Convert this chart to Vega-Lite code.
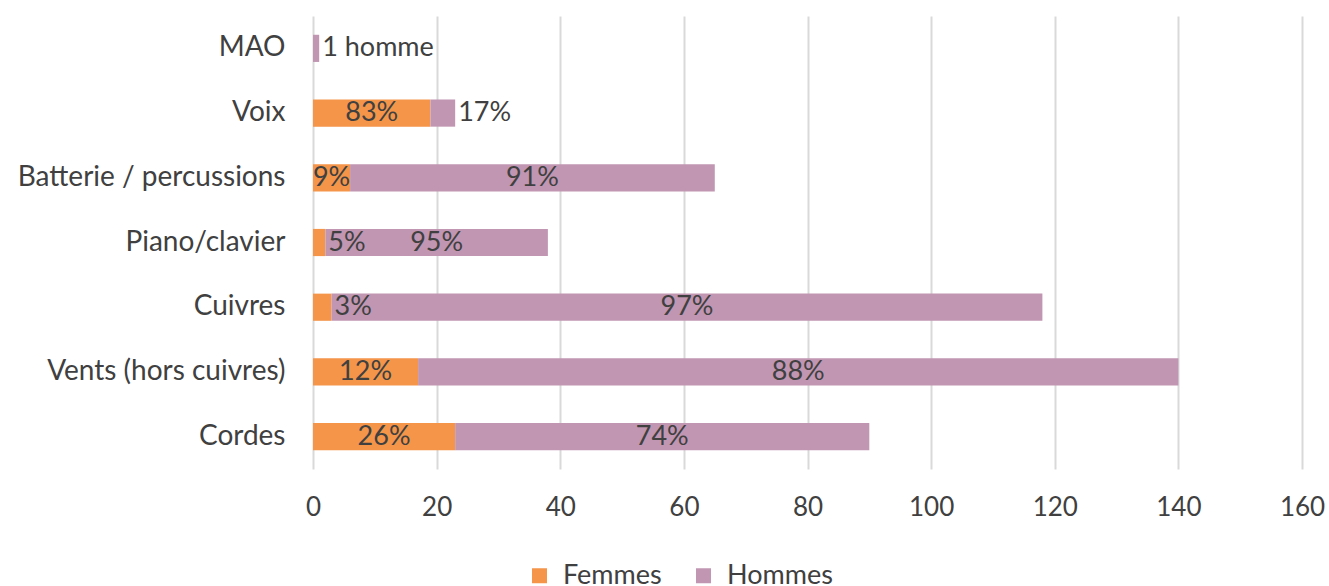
{
  "$schema": "https://vega.github.io/schema/vega-lite/v6.json",
  "width": 989,
  "height": 453,
  "autosize": "none",
  "padding": {"left": 313, "top": 16, "right": 27, "bottom": 117},
  "background": "white",
  "config": {
    "font": "Lato",
    "view": {"stroke": null}
  },
  "data": {
    "values": [
      {"instrument": "MAO", "sexe": "Hommes", "n": 1, "label": "1 homme"},
      {"instrument": "Voix", "sexe": "Femmes", "n": 19, "label": "83%"},
      {"instrument": "Voix", "sexe": "Hommes", "n": 4, "label": "17%"},
      {"instrument": "Batterie / percussions", "sexe": "Femmes", "n": 6, "label": "9%"},
      {"instrument": "Batterie / percussions", "sexe": "Hommes", "n": 59, "label": "91%"},
      {"instrument": "Piano/clavier", "sexe": "Femmes", "n": 2, "label": "5%"},
      {"instrument": "Piano/clavier", "sexe": "Hommes", "n": 36, "label": "95%"},
      {"instrument": "Cuivres", "sexe": "Femmes", "n": 3, "label": "3%"},
      {"instrument": "Cuivres", "sexe": "Hommes", "n": 115, "label": "97%"},
      {"instrument": "Vents (hors cuivres)", "sexe": "Femmes", "n": 17, "label": "12%"},
      {"instrument": "Vents (hors cuivres)", "sexe": "Hommes", "n": 123, "label": "88%"},
      {"instrument": "Cordes", "sexe": "Femmes", "n": 23, "label": "26%"},
      {"instrument": "Cordes", "sexe": "Hommes", "n": 67, "label": "74%"}
    ]
  },
  "transform": [
    {"stack": "n", "groupby": ["instrument"], "sort": [{"field": "sexe", "order": "ascending"}], "as": ["x0", "x1"]},
    {"calculate": "(datum.x0 + datum.x1) / 2", "as": "xm"}
  ],
  "encoding": {
    "y": {
      "field": "instrument",
      "type": "nominal",
      "sort": ["MAO", "Voix", "Batterie / percussions", "Piano/clavier", "Cuivres", "Vents (hors cuivres)", "Cordes"],
      "scale": {"paddingInner": 0.58, "paddingOuter": 0.29},
      "axis": {
        "title": null,
        "domain": false,
        "ticks": false,
        "labelFontSize": 28,
        "labelColor": "#404040",
        "labelPadding": 28,
        "labelLimit": 0,
        "labelFont": "Lato"
      }
    }
  },
  "layer": [
    {
      "mark": {"type": "bar"},
      "encoding": {
        "x": {
          "field": "x0",
          "type": "quantitative",
          "scale": {"domain": [0, 160], "nice": false},
          "axis": {
            "title": null,
            "values": [0, 20, 40, 60, 80, 100, 120, 140, 160],
            "domain": false,
            "ticks": false,
            "grid": true,
            "gridColor": "#d9d9d9",
            "gridWidth": 2,
            "labelFontSize": 26,
            "labelColor": "#404040",
            "labelPadding": 25,
            "labelFlush": false,
            "labelFont": "Lato"
          }
        },
        "x2": {"field": "x1"},
        "color": {
          "field": "sexe",
          "type": "nominal",
          "scale": {"domain": ["Femmes", "Hommes"], "range": ["#F4954A", "#C196B2"]},
          "legend": {
            "title": null,
            "orient": "none",
            "direction": "horizontal",
            "legendX": 213,
            "legendY": 546,
            "symbolType": "square",
            "symbolSize": 225,
            "symbolStrokeWidth": 0,
            "labelFontSize": 27,
            "labelColor": "#404040",
            "labelFont": "Lato",
            "columnPadding": 28,
            "labelOffset": 10
          }
        }
      }
    },
    {
      "transform": [{"filter": "datum.n >= 5"}],
      "mark": {"type": "text", "fontSize": 27, "color": "#404040", "font": "Lato", "align": "center", "baseline": "middle"},
      "encoding": {
        "x": {"field": "xm", "type": "quantitative"},
        "text": {"field": "label"}
      }
    },
    {
      "transform": [{"filter": "datum.n < 5"}],
      "mark": {"type": "text", "fontSize": 27, "color": "#404040", "font": "Lato", "align": "left", "baseline": "middle", "dx": 3},
      "encoding": {
        "x": {"field": "x1", "type": "quantitative"},
        "text": {"field": "label"}
      }
    }
  ]
}
